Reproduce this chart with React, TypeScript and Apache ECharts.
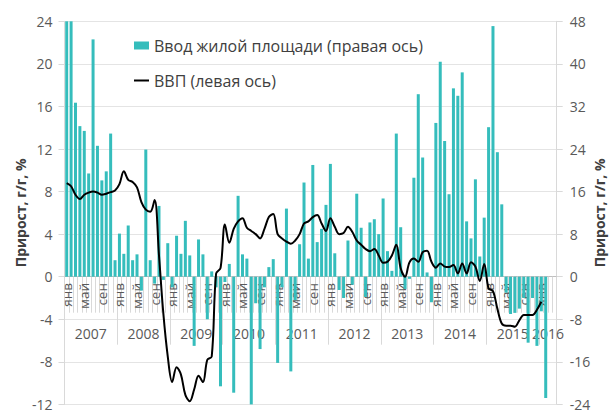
import React, { useEffect, useRef } from 'react';
import * as echarts from 'echarts';

const years = ['2007', '2008', '2009', '2010', '2011', '2012', '2013', '2014', '2015', '2016'];
const monthTicks = ['янв', '', '', '', 'май', '', '', '', 'сен', '', '', ''];
const monthsIn2016 = 4;

// Ввод жилой площади, % г/г (правая ось)
const housing2007 = [48, 48, 32.7, 28.3, 27.4, 19.4, 44.6, 24.6, 18.1, 19.8, 26.9, 3.1];
const housing2008 = [8.1, 4.3, 9.6, 3.1, 4.2, -2.6, 23.9, 3.1, -1.3, 13.3, -0.6, 6.3];
const housing2009 = [-2.0, 7.7, 4.3, 10.5, 4.0, -13.0, 7.0, 4.2, -8.0, 1.0, -2.0, -20.6];
const housing2010 = [-1.0, 2.4, -21.8, 15.2, 4.2, 3.4, -24.0, -5.0, -13.6, -2.0, 1.8, 3.3];
const housing2011 = [-16.2, -2.0, 12.8, -17.8, -4.4, 6.1, 17.7, 3.4, 21.0, 6.5, 9.0, 13.5];
const housing2012 = [21.2, 4.4, -2.5, -4.0, 6.8, -1.5, 15.6, 9.2, -3.8, 10.2, 10.8, 8.0];
const housing2013 = [14.7, 4.8, 1.1, 26.9, 9.3, -2.3, -0.4, 18.6, 34.3, 22.4, 0.8, -4.8];
const housing2014 = [28.9, 40.4, 25.5, 15.5, 35.4, 34.0, 38.4, 10.4, 7.2, 18.3, 3.8, 11.1];
const housing2015 = [28.1, 47.1, 23.4, 13.6, -3.0, -7.0, -6.8, -6.0, -4.0, -12.4, -4.0, -13.0];
const housing2016 = [-6.5, -22.8];

// ВВП, % г/г (левая ось)
const gdp2007 = [8.8, 8.5, 7.7, 7.3, 7.7, 7.9, 8.0, 7.9, 7.7, 7.8, 7.95, 8.1];
const gdp2008 = [8.7, 9.9, 9.1, 8.9, 8.4, 7.0, 6.3, 6.1, 7.2, 2.0, -3.5, -7.5];
const gdp2009 = [-9.9, -8.5, -9.2, -11.1, -11.7, -10.6, -9.3, -9.9, -7.8, -7.5, 0.3, 0.8];
const gdp2010 = [4.9, 3.2, 4.5, 5.2, 5.5, 4.6, 4.3, 4.0, 3.6, 4.5, 5.6, 5.9];
const gdp2011 = [4.0, 3.6, 3.3, 3.1, 3.4, 4.0, 5.0, 5.2, 5.6, 5.8, 5.0, 4.3];
const gdp2012 = [5.5, 4.7, 4.0, 4.1, 4.7, 4.2, 3.4, 3.0, 2.6, 2.4, 2.6, 2.0];
const gdp2013 = [1.3, 1.4, 2.0, 3.0, 0.8, 0.0, 1.35, 1.7, 1.4, 2.3, 2.45, 1.4];
const gdp2014 = [0.85, 1.25, 0.95, 0.9, 1.1, 0.3, 1.25, 0.3, 1.35, 0.95, -0.4, 1.2];
const gdp2015 = [-1.1, -1.35, -3.0, -4.4, -4.6, -4.6, -4.7, -4.1, -3.6, -3.6, -3.6, -3.1];
const gdp2016 = [-2.35];

const housing = [
  ...housing2007, ...housing2008, ...housing2009, ...housing2010, ...housing2011,
  ...housing2012, ...housing2013, ...housing2014, ...housing2015, ...housing2016,
];
const gdp = [
  ...gdp2007, ...gdp2008, ...gdp2009, ...gdp2010, ...gdp2011,
  ...gdp2012, ...gdp2013, ...gdp2014, ...gdp2015, ...gdp2016,
];

const categories: string[] = [];
years.forEach((y, k) => {
  const n = k === years.length - 1 ? monthsIn2016 : 12;
  for (let m = 0; m < n; m++) categories.push(`${y}-${m + 1}`);
});
const nCat = categories.length;
const yearStarts: number[] = years.map((_, k) => k * 12);
const yearBounds = yearStarts.slice(1).map((s) => s - 0.5);
const yearCenters = yearStarts.map((s, k) => {
  const end = k === years.length - 1 ? nCat : s + 12;
  return (s + end - 1) / 2;
});

const FONT = '"Open Sans", "Noto Sans", sans-serif';
const TEAL = '#35bdbc';
const GRID_C = '#d9d9d9';
const LABEL_C = '#595959';
const BAR_NAME = 'Ввод жилой площади (правая ось)';
const LINE_NAME = 'ВВП (левая ось)';
const AXIS_NAME = 'Прирост, г/г, %';

export default function App() {
  const ref = useRef<HTMLDivElement>(null);
  useEffect(() => {
    if (!ref.current) return;
    const chart = echarts.init(ref.current, null, { renderer: 'svg' });
    chart.setOption({
      animation: false,
      backgroundColor: '#ffffff',
      textStyle: { fontFamily: FONT },
      grid: {
        left: 64.5,
        right: 53.3,
        top: 21.3,
        bottom: 5.6,
        containLabel: false,
        outerBoundsMode: 'none',
      },
      legend: {
        orient: 'vertical',
        left: 134,
        top: 37,
        padding: 0,
        itemWidth: 15,
        itemHeight: 8,
        itemGap: 18,
        symbolKeepAspect: true,
        textStyle: { fontSize: 16, color: '#404040', fontFamily: FONT, lineHeight: 17 },
        data: [
          { name: BAR_NAME, icon: 'rect' },
          { name: LINE_NAME, icon: 'path://M0,0 H30 V4 H0 Z' },
        ],
      },
      xAxis: [
        {
          type: 'category',
          data: categories,
          boundaryGap: true,
          axisLine: { onZero: true, onZeroAxisIndex: 0, lineStyle: { color: '#bfbfbf', width: 1 } },
          axisTick: { show: true, interval: 0, length: 36, lineStyle: { color: GRID_C } },
          axisLabel: {
            interval: 0,
            rotate: 90,
            margin: -121.4,
            fontSize: 13.5,
            color: LABEL_C,
            fontFamily: FONT,
            formatter: (_v: string, idx: number) => monthTicks[idx % 12],
          },
          splitLine: { show: false },
        },
        {
          type: 'value',
          min: -0.5,
          max: nCat - 0.5,
          position: 'bottom',
          axisLine: { show: false, onZero: true, onZeroAxisIndex: 0 },
          axisTick: { show: true, customValues: yearBounds, length: 68, lineStyle: { color: GRID_C } },
          axisLabel: {
            show: true,
            customValues: yearCenters,
            margin: -78.4,
            fontSize: 14,
            color: LABEL_C,
            fontFamily: FONT,
            formatter: (v: number) => years[Math.floor((v + 0.5) / 12)],
          },
          splitLine: { show: false },
        },
      ],
      yAxis: [
        {
          type: 'value',
          min: -12,
          max: 24,
          interval: 4,
          position: 'left',
          name: AXIS_NAME,
          nameLocation: 'middle',
          nameGap: 37,
          nameMoveOverlap: false,
          nameTextStyle: { fontSize: 14, fontWeight: 'bold', color: '#404040', fontFamily: FONT },
          axisLine: { show: true, onZero: false, lineStyle: { color: GRID_C } },
          axisTick: { show: true, length: 6, lineStyle: { color: GRID_C } },
          axisLabel: { fontSize: 14, lineHeight: 11, color: LABEL_C, margin: 12, fontFamily: FONT },
          splitLine: { show: true, lineStyle: { color: '#c8c8c8', type: 'dotted', width: 1 } },
        },
        {
          type: 'value',
          min: -24,
          max: 48,
          interval: 8,
          position: 'right',
          name: AXIS_NAME,
          nameLocation: 'middle',
          nameGap: 36,
          nameMoveOverlap: false,
          nameTextStyle: { fontSize: 14, fontWeight: 'bold', color: '#404040', fontFamily: FONT },
          axisLine: { show: true, onZero: false, lineStyle: { color: GRID_C } },
          axisTick: { show: true, length: 6, lineStyle: { color: GRID_C } },
          axisLabel: { fontSize: 14, lineHeight: 11, color: LABEL_C, margin: 13, fontFamily: FONT },
          splitLine: { show: false },
        },
      ],
      series: [
        {
          name: BAR_NAME,
          type: 'bar',
          xAxisIndex: 0,
          yAxisIndex: 1,
          data: housing,
          barWidth: 3,
          itemStyle: { color: TEAL },
          clip: true,
          z: 2,
        },
        {
          name: LINE_NAME,
          type: 'line',
          xAxisIndex: 0,
          yAxisIndex: 0,
          data: gdp,
          smooth: 0.35,
          symbol: 'none',
          showSymbol: false,
          lineStyle: { color: '#000000', width: 2 },
          itemStyle: { color: '#000000' },
          z: 3,
        },
      ],
    });
    return () => chart.dispose();
  }, []);
  return (
    <div
      ref={ref}
      style={{ position: 'absolute', left: 0, top: 0, width: 610, height: 410, background: '#ffffff' }}
    />
  );
}
